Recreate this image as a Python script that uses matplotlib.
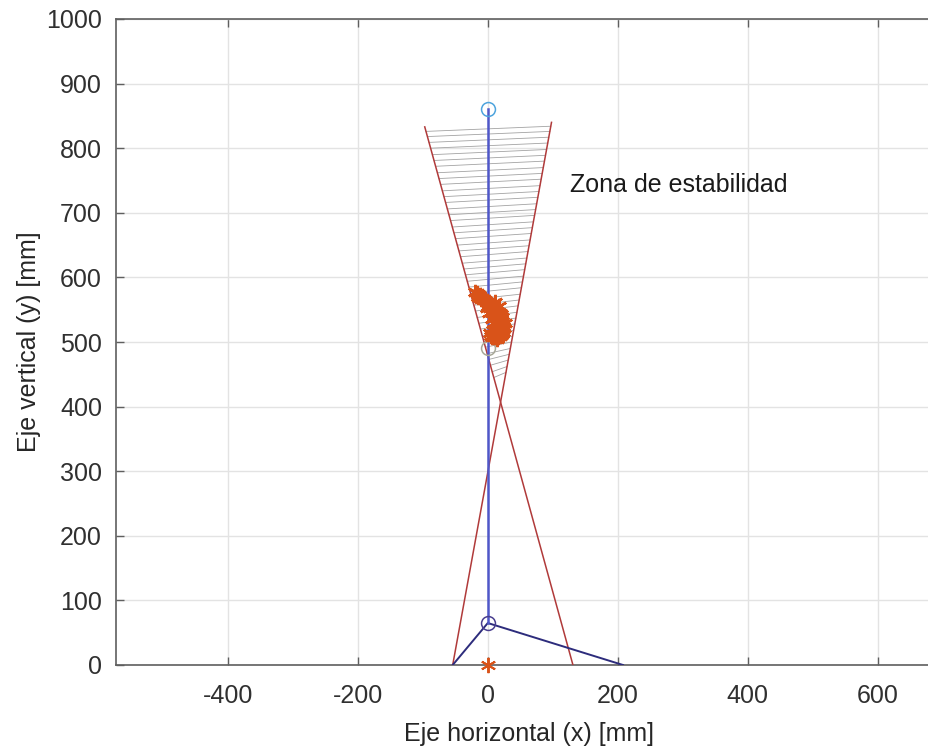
import numpy as np
import matplotlib
matplotlib.use("Agg")
import matplotlib.pyplot as plt

plt.rcParams['font.family'] = ['Liberation Sans', 'DejaVu Sans']
plt.rcParams['axes.unicode_minus'] = False

# ---- data ----
xticks = [-400, -200, 0, 200, 400, 600]
yticks = [0, 100, 200, 300, 400, 500, 600, 700, 800, 900, 1000]

# body segment (vertical)
body_x = [0, 0]
body_y = [65, 860]
head = (0, 860)
hip = (0, 490)
base = (0, 65)

# legs
leg_x = [-54, 0, 208]
leg_y = [0, 65, 0]

# stability cone (two red lines)
red1_x = [-97, 131]
red1_y = [833, 0]
red2_x = [98, -54]
red2_y = [840, 0]

# hatch levels inside the cone
hatch_levels = [445, 454, 464, 473, 482, 492, 501, 510, 520, 529, 538, 548, 557,
                566, 576, 585, 594, 604, 613, 622, 632, 641, 650, 660, 669, 678,
                688, 697, 706, 716, 725, 734, 744, 753, 762, 772, 781, 790, 800,
                809, 818, 826]

# centre of pressure trajectory (orange asterisks)
cop_x = [-20, -17, -14, -12, -9, -6, -3, 0, 3, 6, 9, 12, 14, 17, 19, 21, 22, 23,
         24, 24, 23, 22, 20, 18, 16, 13, 10, 7, 5, 4, 8, 12, 15, 18, 20, 16, 12,
         8, 4, 0, 10, 14, 18, 6, 2, -2, 20, 22, 17, 11, -15, -10, 26, 25, 9, 14]
cop_y = [578, 576, 573, 570, 568, 566, 563, 560, 558, 556, 553, 550, 547, 544,
         540, 536, 532, 528, 524, 520, 516, 513, 511, 509, 508, 507, 507, 508,
         510, 514, 518, 522, 526, 530, 535, 540, 545, 548, 552, 556, 530, 520,
         515, 536, 545, 553, 543, 538, 556, 562, 570, 566, 530, 522, 512, 505]
origin_star = (0, 0)

label_text = "Zona de estabilidad"
label_pos = (126, 743)

# ---- figure ----
fig = plt.figure(figsize=(9.29, 7.47), dpi=100)
xmin, xmax = -572, 700
px_per_unit = 0.65
ax_w = (xmax - xmin) * px_per_unit / 929
ax = fig.add_axes([116 / 929, (747 - 665) / 747, ax_w, (665 - 19) / 747])

ax.set_xlim(xmin, xmax)
ax.set_ylim(0, 1000)
ax.set_xticks(xticks)
ax.set_yticks(yticks)
ax.grid(True, color='#e3e3e3', linewidth=1.0)
ax.set_axisbelow(True)
for s in ax.spines.values():
    s.set_color('#5f5f5f')
    s.set_linewidth(1.2)
ax.spines['right'].set_visible(False)
ax.tick_params(direction='in', top=True, right=False, length=6, width=1,
               color='#5f5f5f', labelsize=18, labelcolor='#303030')
ax.tick_params(axis='x', pad=14)
ax.tick_params(axis='y', pad=10)

# hatch lines
def xat(xs, ys, h):
    return xs[0] + (xs[1] - xs[0]) * (h - ys[0]) / (ys[1] - ys[0])

for h in hatch_levels:
    x_l = xat(red1_x, red1_y, h)
    h2 = min(h + 8, 840)
    x_r = xat(red2_x, red2_y, h2)
    ax.plot([x_l, x_r], [h, h2], color='#a3a3a3', linewidth=0.6, zorder=2)

# red cone lines
ax.plot(red1_x, red1_y, color='#b03a3a', linewidth=1.1, zorder=3)
ax.plot(red2_x, red2_y, color='#b03a3a', linewidth=1.1, zorder=3)

# legs and body
ax.plot(leg_x, leg_y, color='#2d2c7c', linewidth=1.4, zorder=4)
ax.plot(body_x, body_y, color='#4f57c9', linewidth=1.8, zorder=4)

ax.plot(*head, marker='o', ms=10, mfc='none', mec='#4ea4dd', mew=1.1, zorder=5)
ax.plot(*hip, marker='o', ms=10, mfc='none', mec='#a8a898', mew=1.1, zorder=5)
ax.plot(*base, marker='o', ms=10, mfc='none', mec='#4a3f8f', mew=1.1, zorder=5)

# asterisks
ax.plot(cop_x, cop_y, linestyle='none', marker=(6, 2, 0), ms=11,
        color='#d95319', mew=1.8, zorder=6)
ax.plot(*origin_star, marker=(6, 2, 0), ms=11, color='#d95319', mew=1.4,
        zorder=6, clip_on=False)

ax.text(label_pos[0], label_pos[1], label_text, fontsize=18, color='#1a1a1a',
        ha='left', va='center')

ax.set_xlabel('Eje horizontal (x) [mm]', fontsize=18, color='#262626', labelpad=10)
ax.set_ylabel('Eje vertical (y) [mm]', fontsize=18, color='#262626', labelpad=4)

fig.savefig('out.png', dpi=100)
